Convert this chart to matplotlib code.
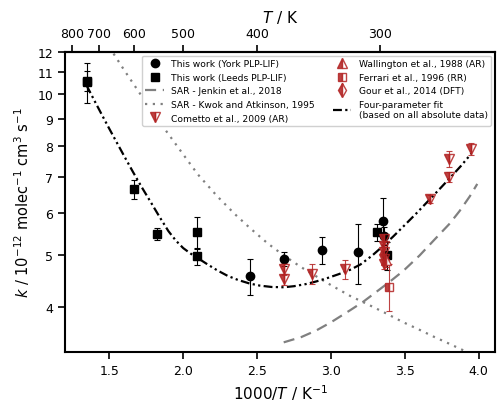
import numpy as np
import matplotlib
matplotlib.use('Agg')
import matplotlib.pyplot as plt
from matplotlib.ticker import FixedLocator, NullLocator, FixedFormatter
from matplotlib.container import ErrorbarContainer

# This work, York PLP-LIF (1000/T, k, err)
york_x = [2.45, 2.68, 2.94, 3.18, 3.35, 3.36]
york_k = [4.57, 4.92, 5.11, 5.07, 5.79, 5.44]
york_e = [0.36, 0.15, 0.30, 0.65, 0.60, 0.20]

# This work, Leeds PLP-LIF
leeds_x = [1.35, 1.35, 1.67, 1.82, 2.095, 2.095, 3.31, 3.38]
leeds_k = [10.6, 10.55, 6.65, 5.48, 5.52, 4.98, 5.53, 5.00]
leeds_e = [0.45, 0.90, 0.28, 0.14, 0.38, 0.19, 0.20, 0.30]

# Cometto et al., 2009 (AR)
com_x = [2.68, 2.68, 2.87, 3.095, 3.36, 3.36, 3.36, 3.36, 3.36, 3.67, 3.80, 3.80, 3.95]
com_k = [4.71, 4.51, 4.62, 4.71, 5.36, 5.20, 5.08, 4.92, 4.81, 6.37, 7.00, 7.57, 7.90]
com_e = [0.12, 0.10, 0.19, 0.20, 0.10, 0.10, 0.10, 0.10, 0.10, 0.10, 0.15, 0.25, 0.20]

# Wallington et al., 1988 (AR)
wal_x = [3.37]
wal_k = [4.90]
wal_e = [0.15]

# Ferrari et al., 1996 (RR)
fer_x = [3.39]
fer_k = [4.36]
fer_lo = [0.42]
fer_hi = [0.45]

# Gour et al., 2014 (DFT)
gour_x = [3.36]
gour_k = [5.05]

# SAR - Jenkin et al., 2018
jen_x = [2.68, 2.8, 2.9, 3.0, 3.13, 3.22, 3.3, 3.4, 3.49, 3.6, 3.7, 3.8, 3.87, 3.94, 3.99]
jen_k = [3.44, 3.52, 3.62, 3.75, 3.95, 4.10, 4.26, 4.47, 4.68, 5.00, 5.35, 5.72, 6.05, 6.45, 6.80]

# SAR - Kwok and Atkinson, 1995
kwok_x = [1.50, 1.60, 1.70, 1.80, 1.89, 2.00, 2.10, 2.23, 2.35, 2.45, 2.57, 2.68,
          2.80, 2.90, 3.00, 3.13, 3.25, 3.37, 3.49, 3.60, 3.70, 3.80, 3.92]
kwok_k = [12.25, 11.1, 10.1, 9.2, 8.5, 7.72, 7.08, 6.45, 5.97, 5.63, 5.27, 5.0,
          4.75, 4.57, 4.40, 4.20, 4.05, 3.90, 3.75, 3.63, 3.52, 3.42, 3.30]

# Four-parameter fit
fit_x = [1.345, 1.40, 1.45, 1.50, 1.55, 1.60, 1.66, 1.72, 1.78, 1.84, 1.90, 1.95, 2.00,
         2.05, 2.10, 2.17, 2.23, 2.30, 2.37, 2.45, 2.52, 2.60, 2.68, 2.75, 2.83, 2.90,
         2.98, 3.05, 3.13, 3.20, 3.28, 3.35, 3.42, 3.50, 3.58, 3.67, 3.75, 3.82, 3.88, 3.95]
fit_k = [10.4, 9.72, 9.15, 8.62, 8.13, 7.67, 7.16, 6.70, 6.29, 5.90, 5.55, 5.33, 5.16,
         5.04, 4.94, 4.80, 4.69, 4.58, 4.50, 4.43, 4.39, 4.365, 4.36, 4.38, 4.42, 4.47,
         4.54, 4.61, 4.70, 4.81, 5.00, 5.20, 5.42, 5.70, 6.00, 6.37, 6.72, 7.05, 7.35, 7.75]

y_ticks = [4, 5, 6, 7, 8, 9, 10, 11, 12]
x_ticks = [1.5, 2.0, 2.5, 3.0, 3.5, 4.0]
T_ticks = [800, 700, 600, 500, 400, 300]

red = '#b22222'

plt.rcParams['font.size'] = 9
fig = plt.figure(figsize=(5, 4.1), dpi=100)
ax = fig.add_axes([0.13, 0.139, 0.86, 0.732])

ax.plot(jen_x, jen_k, ls=(0, (5, 3)), color='gray', lw=1.6, label='SAR - Jenkin et al., 2018')
ax.plot(kwok_x, kwok_k, ls=(0, (1, 2.5)), color='gray', lw=1.6, label='SAR - Kwok and Atkinson, 1995')
ax.plot(fit_x, fit_k, ls=(0, (4, 1.5, 1, 1.5, 1, 1.5)), color='black', lw=1.6,
        label='Four-parameter fit\n(based on all absolute data)')

ax.errorbar(york_x, york_k, yerr=york_e, fmt='o', color='black', ms=6, capsize=2,
            elinewidth=0.8, capthick=0.8, label='This work (York PLP-LIF)')
ax.errorbar(leeds_x, leeds_k, yerr=leeds_e, fmt='s', color='black', ms=5.5, capsize=2,
            elinewidth=0.8, capthick=0.8, label='This work (Leeds PLP-LIF)')
ax.errorbar(com_x, com_k, yerr=com_e, fmt='v', color=red, mfc=red, mec=red, ms=7,
            fillstyle='left', mfcalt='none', capsize=2, elinewidth=0.8, capthick=0.8,
            alpha=0.85, label='Cometto et al., 2009 (AR)')
ax.errorbar(wal_x, wal_k, yerr=wal_e, fmt='^', color=red, ms=7, fillstyle='left',
            mfcalt='white', capsize=2, elinewidth=0.8, capthick=0.8, alpha=0.85,
            label='Wallington et al., 1988 (AR)')
ax.errorbar(fer_x, fer_k, yerr=[fer_lo, fer_hi], fmt='s', color=red, ms=5.5, fillstyle='left',
            mfcalt='white', capsize=2, elinewidth=0.8, capthick=0.8, alpha=0.85,
            label='Ferrari et al., 1996 (RR)')
ax.plot(gour_x, gour_k, 'd', color=red, ms=7, fillstyle='left', mfcalt='white', alpha=0.85,
        ls='none', label='Gour et al., 2014 (DFT)')

ax.set_yscale('log')
ax.set_xlim(1.2, 4.11)
ax.set_ylim(3.3, 12)
ax.yaxis.set_major_locator(FixedLocator(y_ticks))
ax.yaxis.set_major_formatter(FixedFormatter([str(v) for v in y_ticks]))
ax.yaxis.set_minor_locator(NullLocator())
ax.set_xticks(x_ticks)
ax.set_xlabel('1000/$T$ / K$^{-1}$', fontsize=11)
ax.set_ylabel('$k$ / 10$^{-12}$ molec$^{-1}$ cm$^3$ s$^{-1}$', fontsize=10.5)
for s in ax.spines.values():
    s.set_linewidth(1.5)
ax.tick_params(width=1.2, length=5)

top = ax.secondary_xaxis('top', functions=(lambda x: 1000 / np.asarray(x, float),
                                           lambda t: 1000 / np.asarray(t, float)))
top.set_xticks(T_ticks)
top.set_xticklabels([str(t) for t in T_ticks])
top.xaxis.set_minor_locator(NullLocator())
top.set_xlabel('$T$ / K', fontsize=11)
top.tick_params(width=1.2, length=5)
top.spines['top'].set_linewidth(1.5)

# legend: markers only, no error bars
h, l = ax.get_legend_handles_labels()
order = ['This work (York PLP-LIF)', 'This work (Leeds PLP-LIF)', 'SAR - Jenkin et al., 2018',
         'SAR - Kwok and Atkinson, 1995', 'Cometto et al., 2009 (AR)',
         'Wallington et al., 1988 (AR)', 'Ferrari et al., 1996 (RR)', 'Gour et al., 2014 (DFT)',
         'Four-parameter fit\n(based on all absolute data)']
hd = {}
for hh, ll in zip(h, l):
    hd[ll] = hh[0] if isinstance(hh, ErrorbarContainer) else hh
ax.legend([hd[k] for k in order], order, ncol=2, loc='upper right', fontsize=6.6,
          framealpha=1, edgecolor='#d0d0d0', handlelength=2.0, columnspacing=2.0,
          labelspacing=0.5, borderaxespad=0.4)

fig.savefig('out.png', dpi=100)
